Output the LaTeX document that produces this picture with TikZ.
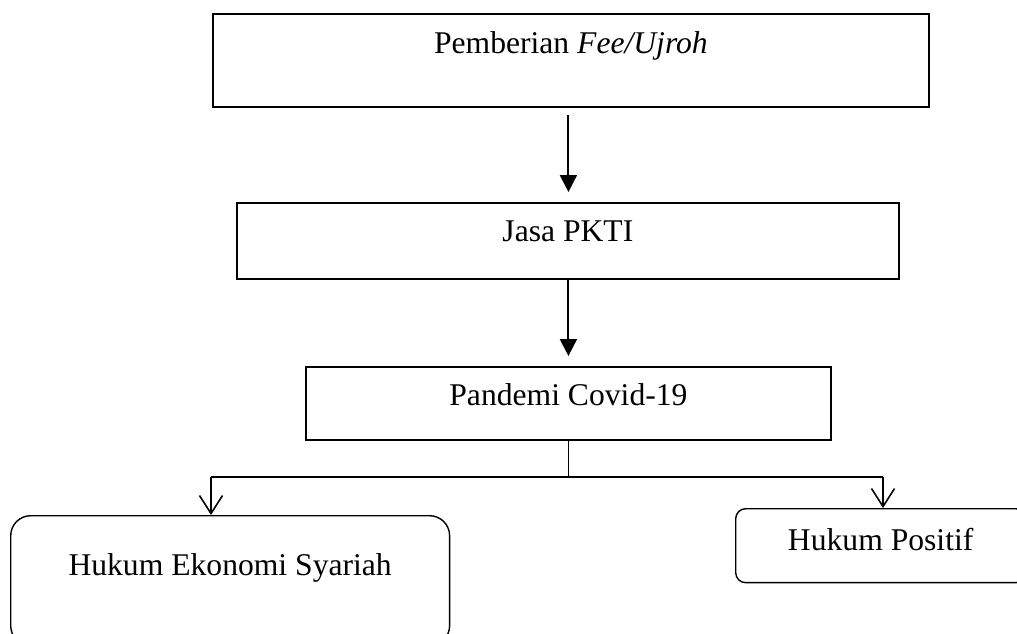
\documentclass[tikz,border=0pt]{standalone}
\usepackage{fontspec}
\setmainfont{Liberation Serif}
\usetikzlibrary{arrows.meta}

\begin{document}
\begin{tikzpicture}[x=0.02cm, y=-0.02cm,
                    font=\fontsize{18}{22}\selectfont,
                    box/.style={draw, line width=1.1pt, inner sep=0pt,
                                anchor=north west},
                    rbox/.style={box, line width=0.8pt},
                    flow/.style={-{Triangle[length=0.34cm, width=0.34cm]},
                                 line width=1.2pt},
                    branch/.style={-{Straight Barb[length=0.36cm, width=0.46cm]},
                                   line width=0.9pt}]

                      \useasboundingbox (0, 0) rectangle (1017, 633);

                      \node[box, minimum width=14.32cm, text height=0.8cm,
                            text depth=1.06cm] (fee) at (212, 13)
                            {Pemberian \textit{Fee/Ujroh}};
                      \node[box, minimum width=13.24cm, text height=0.78cm,
                            text depth=0.74cm] (jasa) at (236, 202) {Jasa PKTI};
                      \node[box, minimum width=10.5cm, text height=0.78cm,
                            text depth=0.68cm] (pandemi) at (305, 366) {Pandemi Covid-19};
                      \node[rbox, rounded corners=0.4cm, minimum width=8.78cm,
                            text height=1.2cm, text depth=1.4cm] (syariah) at (10, 515)
                            {Hukum Ekonomi Syariah};
                      \node[rbox, rounded corners=0.2cm, minimum width=5.8cm,
                            text height=0.84cm, text depth=0.64cm] (positif) at (735, 508)
                            {Hukum Positif};

                      \coordinate (l) at (211, 477);
                      \coordinate (r) at (883, 477);

                      \draw[flow, shorten <=0.14cm, shorten >=0.2cm]
                          (fee.south -| pandemi.south) -- (jasa.north -| pandemi.south);
                      \draw[flow, shorten >=0.2cm]
                          (jasa.south -| pandemi.south) -- (pandemi.north);

                      \draw[line width=0.8pt] (pandemi.south) -- (pandemi.south |- l);
                      \draw[line width=0.8pt] (l) -- (r);
                      \foreach \i/\j in {l/syariah, r/positif} {
                              \draw[branch] (\i) -- (\i |- \j.north);
                          }
                  \end{tikzpicture}
\end{document}
